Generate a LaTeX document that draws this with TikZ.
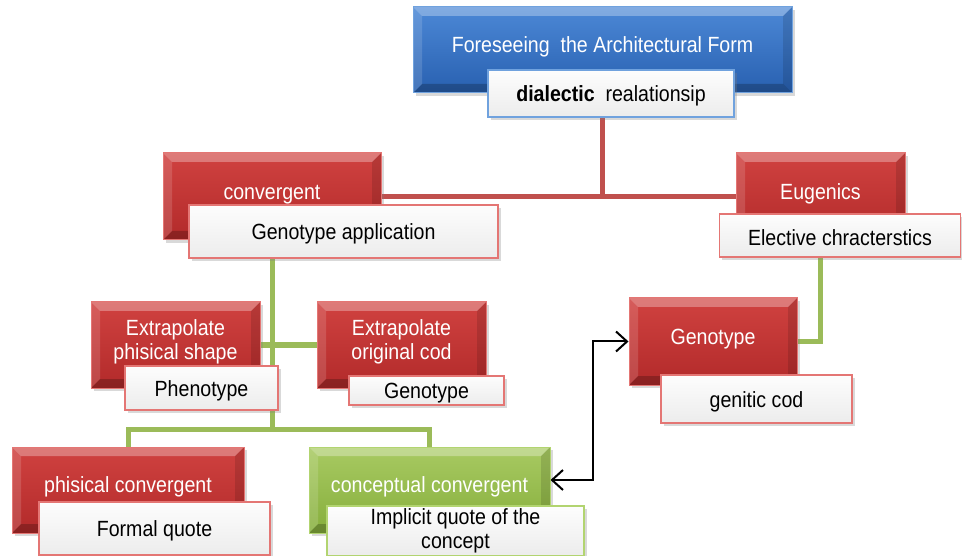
\documentclass[tikz,border=0pt]{standalone}
\usepackage{fontspec}
\setmainfont{Liberation Sans}[FakeStretch=0.89]
\usetikzlibrary{shadows,backgrounds,arrows.meta}
\definecolor{redTop}{RGB}{208,66,64}
\definecolor{redBot}{RGB}{178,42,42}
\definecolor{redEdge}{RGB}{228,118,116}
\definecolor{blueTop}{RGB}{76,136,214}
\definecolor{blueBot}{RGB}{40,96,176}
\definecolor{blueEdge}{RGB}{112,162,222}
\definecolor{grnTop}{RGB}{168,202,98}
\definecolor{grnBot}{RGB}{134,174,60}
\definecolor{grnEdge}{RGB}{178,212,112}
\definecolor{redLine}{RGB}{192,80,77}
\definecolor{grnLine}{RGB}{155,187,89}
\definecolor{wTop}{RGB}{253,253,253}
\definecolor{wBot}{RGB}{236,236,236}
\newcommand\up[1]{\raisebox{2pt}[\height][\depth]{\begin{tabular}{@{}c@{}}#1\end{tabular}}}
\newcommand\dn[1]{\raisebox{-2.5pt}[\height][\depth]{#1}}
\tikzset{
  box/.style={rectangle, inner sep=0pt, line width=1pt,
    drop shadow={shadow xshift=2.5pt, shadow yshift=-3pt, opacity=.3}},
  bevel/.style={path picture={
    \path (path picture bounding box.north west) coordinate (bvA)
          (path picture bounding box.north east) coordinate (bvB)
          (path picture bounding box.south east) coordinate (bvC)
          (path picture bounding box.south west) coordinate (bvD);
    \fill[white,opacity=.30] (bvA) -- (bvB) -- ([shift={(-9,9)}]bvB) -- ([shift={(9,9)}]bvA) -- cycle;
    \fill[white,opacity=.14] (bvA) -- ([shift={(9,9)}]bvA) -- ([shift={(9,-9)}]bvD) -- (bvD) -- cycle;
    \fill[black,opacity=.12] (bvB) -- ([shift={(-9,9)}]bvB) -- ([shift={(-9,-9)}]bvC) -- (bvC) -- cycle;
    \fill[black,opacity=.22] (bvD) -- (bvC) -- ([shift={(-9,-9)}]bvC) -- ([shift={(9,-9)}]bvD) -- cycle;
  }},
  redbox/.style={box, bevel, top color=redTop, bottom color=redBot, draw=redEdge, text=white},
  bluebox/.style={box, bevel, top color=blueTop, bottom color=blueBot, draw=blueEdge, text=white},
  grnbox/.style={box, bevel, top color=grnTop, bottom color=grnBot, draw=grnEdge, text=white},
  wbox/.style={box, top color=wTop, bottom color=wBot, text=black, line width=1.4pt},
  wred/.style={wbox, draw=redEdge},
  wblue/.style={wbox, draw=blueEdge},
  wgrn/.style={wbox, draw=grnEdge},
  redln/.style={draw=redLine, line width=5pt},
  grnln/.style={draw=grnLine, line width=5pt},
  biarrow/.style={{Straight Barb[length=11pt,width=20pt]}-{Straight Barb[length=11pt,width=20pt]}, line width=2pt, black}
}
\begin{document}
\begin{tikzpicture}[x=1pt, y=-1pt, font=\fontsize{22}{24}\selectfont]
\useasboundingbox (0,0) rectangle (962,556);

% top
\node[bluebox, minimum width=379pt, minimum height=86pt] (title) at (602.5,50) {\up{Foreseeing~ the Architectural Form}};
\node[wblue, minimum width=246pt, minimum height=47pt] (dial) at (611,93.5) {\dn{{\bfseries dialectic}~ realationsip}};

% second level
\node[redbox, minimum width=218pt, minimum height=87pt] (conv) at (272,196.5) {\up{convergent}};
\node[wred, minimum width=309pt, minimum height=53pt] (gapp) at (343.5,231.5) {\dn{Genotype application}};
\node[redbox, minimum width=169pt, minimum height=87pt] (eug) at (820.5,196.5) {\up{Eugenics}};
\node[wred, minimum width=241pt, minimum height=43pt] (elec) at (840,235.5) {\dn{Elective chracterstics}};

% third level
\node[redbox, minimum width=169pt, minimum height=86pt] (exphys) at (175.5,345) {\up{Extrapolate\\phisical shape}};
\node[wred, minimum width=153pt, minimum height=44pt] (pheno) at (201.5,388) {\dn{Phenotype}};
\node[redbox, minimum width=169pt, minimum height=86pt] (excod) at (401.5,345) {\up{Extrapolate\\original cod}};
\node[wred, minimum width=155pt, minimum height=29pt] (genot) at (426.5,390.5) {\dn{Genotype}};
\node[redbox, minimum width=168pt, minimum height=87pt] (geno) at (713,341.5) {\up{Genotype}};
\node[wred, minimum width=191pt, minimum height=48pt] (genc) at (756.5,399) {\dn{genitic cod}};

% bottom level
\node[redbox, minimum width=232pt, minimum height=86pt] (phys) at (128,490) {\up{phisical convergent}};
\node[wred, minimum width=231pt, minimum height=53pt] (formal) at (154.5,528.5) {\dn{Formal quote}};
\node[grnbox, minimum width=241pt, minimum height=86pt] (concept) at (429.5,490) {\up{conceptual convergent}};
\node[wgrn, minimum width=257pt, minimum height=50pt, align=center] (impl) at (455.5,531) {Implicit quote of the\\concept};

\coordinate (hub) at (272,429);

\begin{scope}[on background layer]
\draw[redln] (title.south) -- (title.south |- conv.center);
\draw[redln] (conv.east) -- (eug.west);
\draw[grnln] (conv.center) -- (hub);
\draw[grnln] (phys.north) -- (phys.north |- hub) -- (concept.north |- hub) -- (concept.north);
\draw[grnln] (exphys.east) -- (excod.west);
\draw[grnln] (eug.center) |- (geno.east);
\end{scope}

\draw[biarrow] ([yshift=10pt]concept.east) -- ++(42,0) |- (geno.west);
\end{tikzpicture}
\end{document}
